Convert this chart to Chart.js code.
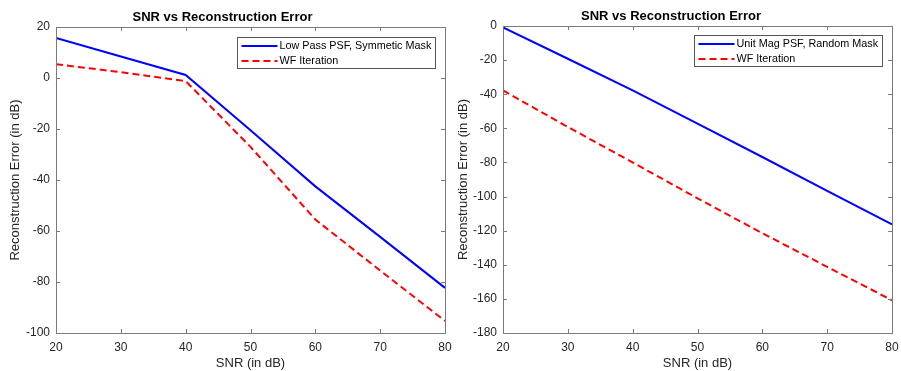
<!DOCTYPE html>
<html>
<head>
<meta charset="utf-8">
<script src="https://cdn.jsdelivr.net/npm/chart.js@4.4.1/dist/chart.umd.min.js"></script>
<style>
  html, body { margin: 0; padding: 0; background: #fff; }
  .panel { position: absolute; top: 0; height: 371px; }
  #leftPanel { left: 0; width: 460px; z-index: 1; }
  #rightPanel { left: 450px; width: 451px; z-index: 2; }
</style>
</head>
<body>
<div class="panel" id="leftPanel"><canvas id="leftChart" width="460" height="371"></canvas></div>
<div class="panel" id="rightPanel"><canvas id="rightChart" width="451" height="371"></canvas></div>
<script>
// values
const snrValues = [20, 30, 40, 50, 60, 70, 80]

const leftLabels = ['Low Pass PSF, Symmetic Mask', 'WF Iteration']
const leftPsfError = [15.7, 8.4, 1.2, -20.5, -42.5, -62.3, -82.3]
const leftWfError = [5.4, 2.3, -1.2, -27, -55.5, -75.5, -95.3]

const rightLabels = ['Unit Mag PSF, Random Mask', 'WF Iteration']
const rightPsfError = [-0.8, -19.2, -37.8, -57.2, -76.8, -96.7, -116.3]
const rightWfError = [-37.8, -59.2, -80, -101, -121.5, -141.2, -160.8]

const titleText = 'SNR vs Reconstruction Error'
const xTitle = 'SNR (in dB)'
const yTitle = 'Reconstruction Error (in dB)'

const FONT = "'Liberation Sans', Arial, Helvetica, sans-serif"
const TEXT_COLOR = '#262626'
const BOX_COLOR = '#7a7a7a'

// MATLAB style box, inward ticks on all four sides, and a framed legend in the corner
const matlabFrame = {
  id: 'matlabFrame',
  afterDatasetsDraw(chart) {
    const { ctx, chartArea: a, scales } = chart
    const x = scales.x
    const y = scales.y
    const tl = 4
    ctx.save()
    ctx.strokeStyle = BOX_COLOR
    ctx.lineWidth = 1
    ctx.setLineDash([])
    ctx.beginPath()
    x.ticks.forEach((t) => {
      const px = Math.round(x.getPixelForValue(t.value)) + 0.5
      ctx.moveTo(px, a.bottom)
      ctx.lineTo(px, a.bottom - tl)
      ctx.moveTo(px, a.top)
      ctx.lineTo(px, a.top + tl)
    })
    y.ticks.forEach((t) => {
      const py = Math.round(y.getPixelForValue(t.value)) + 0.5
      ctx.moveTo(a.left, py)
      ctx.lineTo(a.left + tl, py)
      ctx.moveTo(a.right, py)
      ctx.lineTo(a.right - tl, py)
    })
    ctx.stroke()
    ctx.strokeRect(Math.round(a.left) + 0.5, Math.round(a.top) + 0.5,
      Math.round(a.right - a.left), Math.round(a.bottom - a.top))

    // legend
    const opts = chart.options.plugins.matlabFrame
    ctx.font = '10.8px ' + FONT
    const sets = chart.data.datasets
    const textW = Math.max(...sets.map((d) => ctx.measureText(d.label).width))
    const lineLen = 36
    const boxW = Math.round(4 + lineLen + 2 + textW + 4)
    const boxH = 31
    const bx = Math.round(a.right - opts.rightGap - boxW) + 0.5
    const by = Math.round(a.top + opts.topGap) + 0.5
    ctx.fillStyle = '#fff'
    ctx.fillRect(bx, by, boxW, boxH)
    ctx.strokeStyle = '#555'
    ctx.strokeRect(bx, by, boxW, boxH)
    sets.forEach((d, i) => {
      const ry = by + 8.5 + i * 15
      ctx.strokeStyle = d.borderColor
      ctx.lineWidth = d.borderWidth
      ctx.setLineDash(d.borderDash || [])
      ctx.beginPath()
      ctx.moveTo(bx + 4, ry)
      ctx.lineTo(bx + 4 + lineLen, ry)
      ctx.stroke()
      ctx.setLineDash([])
      ctx.lineWidth = 1
      ctx.fillStyle = '#000'
      ctx.textBaseline = 'middle'
      ctx.textAlign = 'left'
      ctx.fillText(d.label, bx + 4 + lineLen + 2, ry)
    })
    ctx.restore()
  },
}

function makeChart(canvasId, labels, psf, wf, yMin, yMax, frame) {
  const canvas = document.getElementById(canvasId)
  if (!canvas) return null

  return new Chart(canvas, {
    type: 'line',
    data: {
      datasets: [
        {
          label: labels[0],
          data: snrValues.map((s, i) => ({ x: s, y: psf[i] })),
          borderColor: '#0000ff',
          borderWidth: 2,
          pointRadius: 0,
          tension: 0,
        },
        {
          label: labels[1],
          data: snrValues.map((s, i) => ({ x: s, y: wf[i] })),
          borderColor: '#ff0000',
          borderWidth: 2,
          borderDash: [7, 4],
          pointRadius: 0,
          tension: 0,
        },
      ],
    },
    options: {
      responsive: false,
      animation: false,
      devicePixelRatio: 1,
      layout: {
        padding: { left: 0, right: frame.rightPad, top: 0, bottom: 0 },
      },
      plugins: {
        legend: { display: false },
        tooltip: { enabled: false },
        title: {
          display: true,
          text: titleText,
          color: '#000',
          font: { family: FONT, size: 13, weight: 'bold' },
          padding: { top: frame.titleTop, bottom: frame.plotTop - frame.titleTop - 15.6 },
        },
        matlabFrame: { rightGap: 10, topGap: frame.legendTop },
      },
      scales: {
        x: {
          type: 'linear',
          min: 20,
          max: 80,
          grid: { display: false, drawTicks: false },
          border: { display: false },
          ticks: {
            stepSize: 10,
            padding: 7,
            color: TEXT_COLOR,
            font: { family: FONT, size: 12 },
          },
          title: {
            display: true,
            text: xTitle,
            color: TEXT_COLOR,
            font: { family: FONT, size: 13 },
            padding: { top: 0, bottom: 0 },
          },
          afterFit(scale) {
            scale.height = 371 - 333
            scale.paddingLeft = 0
            scale.paddingRight = 0
          },
        },
        y: {
          min: yMin,
          max: yMax,
          grid: { display: false, drawTicks: false },
          border: { display: false },
          ticks: {
            stepSize: 20,
            padding: 6,
            color: TEXT_COLOR,
            font: { family: FONT, size: 12 },
          },
          title: {
            display: true,
            text: yTitle,
            color: TEXT_COLOR,
            font: { family: FONT, size: 13 },
            padding: { top: frame.yTitlePad, bottom: 0 },
          },
          afterFit(scale) {
            scale.width = frame.plotLeft
          },
        },
      },
    },
    plugins: [matlabFrame],
  })
}

makeChart('leftChart', leftLabels, leftPsfError, leftWfError, -100, 20, {
  plotLeft: 56, rightPad: 15, plotTop: 27, titleTop: 10, legendTop: 9.5, yTitlePad: 7.5,
})
makeChart('rightChart', rightLabels, rightPsfError, rightWfError, -180, 0, {
  plotLeft: 53, rightPad: 9, plotTop: 26, titleTop: 9, legendTop: 8.5, yTitlePad: 5.5,
})
</script>
</body>
</html>
